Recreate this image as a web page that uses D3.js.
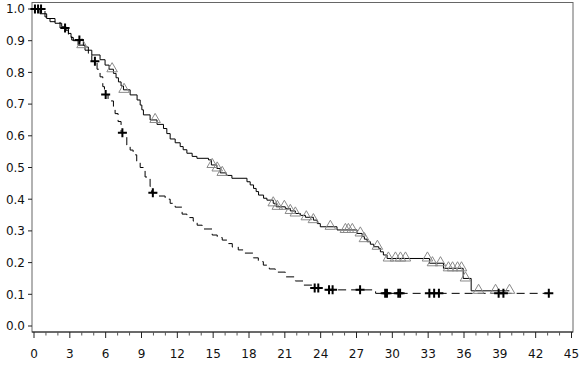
<!DOCTYPE html>
<html>
<head>
<meta charset="utf-8">
<script src="https://cdn.jsdelivr.net/npm/d3@7"></script>
<style>
  body { margin: 0; background: #fff; }
  svg { display: block; font-family: "DejaVu Sans", sans-serif; }
</style>
</head>
<body>
<div id="chart"></div>
<script>
// group A: solid line, triangle censor marks
const timesA = [0, 0.5, 1.06, 1.76, 2.32, 2.68, 2.88, 3.1, 3.29, 3.69, 4.27, 4.84, 5.53, 5.95, 6.29, 6.65, 6.87, 7.07, 7.29, 7.49,
  8.05, 8.63, 8.89, 9.03, 9.16, 9.72, 10.3, 10.84, 11.12, 11.4, 11.82, 12.24, 12.49, 12.8, 13.24, 13.64, 14.61, 14.85, 15.31, 15.59,
  16.1, 16.57, 17.83, 18.1, 18.38, 18.6, 18.8, 19.22, 19.5, 20.03, 20.28, 21.04, 21.46, 21.88, 22.3, 22.72, 23.39, 23.72, 23.97,
  25.37, 27.05, 27.47, 27.66, 27.89, 28.16, 28.44, 28.86, 29.0, 29.25, 29.56, 33.11, 34.28, 35.93, 36.6];
const survA = [1, 0.985, 0.97, 0.955, 0.944, 0.933, 0.923, 0.91, 0.9, 0.886, 0.87, 0.855, 0.84, 0.823, 0.81, 0.797, 0.783, 0.77, 0.757, 0.745,
  0.729, 0.713, 0.697, 0.682, 0.666, 0.65, 0.636, 0.623, 0.607, 0.59, 0.578, 0.566, 0.556, 0.545, 0.535, 0.529, 0.524, 0.508, 0.497, 0.483,
  0.475, 0.466, 0.455, 0.445, 0.434, 0.424, 0.413, 0.403, 0.397, 0.387, 0.376, 0.371, 0.363, 0.355, 0.349, 0.343, 0.334, 0.323, 0.313,
  0.303, 0.292, 0.282, 0.274, 0.266, 0.258, 0.25, 0.245, 0.234, 0.224, 0.213, 0.198, 0.182, 0.15, 0.111];
const endA = 39.8;
const censorA = [4.02, 6.54, 7.54, 10.14, 14.92, 15.34, 15.76, 20.03, 20.37, 20.96, 21.46, 21.88, 22.8, 23.39, 24.81, 26.07, 26.32, 26.65,
  27.32, 27.66, 28.75, 29.67, 30.26, 30.68, 31.1, 32.94, 33.36, 34.03, 34.7, 35.04, 35.46, 35.79, 36.12, 37.22, 38.64, 39.81];

// group B: dashed line, plus censor marks
const timesB = [0, 0.92, 1.34, 2.18, 2.88, 3.16, 4.13, 4.55, 4.84, 5.28, 5.53, 5.76, 5.9, 6.2, 6.65, 6.79, 7.04, 7.29, 7.77, 8.05,
  8.3, 8.6, 8.89, 9.3, 9.72, 9.85, 10.39, 10.98, 11.4, 11.82, 12.4, 12.8, 13.33, 13.66, 14.08, 14.92, 15.34, 15.76, 16.18, 16.6,
  17.1, 17.52, 18.36, 18.78, 19.2, 19.7, 20.2, 21.04, 21.88, 22.55, 23.3, 24.4, 28.6];
const survB = [1, 0.975, 0.96, 0.94, 0.92, 0.902, 0.88, 0.86, 0.835, 0.81, 0.786, 0.755, 0.73, 0.71, 0.688, 0.67, 0.645, 0.61, 0.571, 0.555,
  0.54, 0.52, 0.5, 0.47, 0.44, 0.42, 0.41, 0.4, 0.387, 0.375, 0.353, 0.342, 0.331, 0.318, 0.306, 0.287, 0.279, 0.271, 0.26, 0.249,
  0.24, 0.23, 0.215, 0.203, 0.192, 0.18, 0.17, 0.155, 0.142, 0.129, 0.12, 0.114, 0.103];
const endB = 43.1;
const censorB = [0.08, 0.34, 0.59, 2.6, 3.8, 5.1, 6.0, 7.4, 9.95, 23.5, 23.8, 24.7, 25.0, 27.3, 29.4, 29.55, 30.5, 30.65,
  33.1, 33.5, 33.9, 38.9, 39.3, 43.1];

const xTicks = d3.range(0, 46, 3);
const yTicks = d3.range(0, 1.01, 0.1);

const width = 584, height = 368;
const frame = { left: 32, right: 573, top: 2.5, bottom: 332 };

const svg = d3.select("#chart").append("svg")
  .attr("width", width)
  .attr("height", height);

const x = d3.scaleLinear().domain([0, 45]).range([34, 571.5]);
const y = d3.scaleLinear().domain([0, 1]).range([326, 9]);

// frame
svg.append("rect")
  .attr("x", frame.left).attr("y", frame.top)
  .attr("width", frame.right - frame.left)
  .attr("height", frame.bottom - frame.top)
  .attr("fill", "none")
  .attr("stroke", "#666")
  .attr("stroke-width", 1);

// x axis
const xAxis = svg.append("g")
  .attr("transform", "translate(0," + frame.bottom + ")");
xAxis.append("line")
  .attr("x1", frame.left).attr("x2", frame.right)
  .attr("stroke", "#222");
xAxis.selectAll("line.minor")
  .data(d3.range(0, 46, 1).filter(d => d % 3 !== 0))
  .enter().append("line")
  .attr("class", "minor")
  .attr("x1", d => x(d)).attr("x2", d => x(d))
  .attr("y1", 0).attr("y2", 3.5)
  .attr("stroke", "#555");
xAxis.selectAll("line.major")
  .data(xTicks)
  .enter().append("line")
  .attr("class", "major")
  .attr("x1", d => x(d)).attr("x2", d => x(d))
  .attr("y1", 0).attr("y2", 6)
  .attr("stroke", "#222");
xAxis.selectAll("text")
  .data(xTicks)
  .enter().append("text")
  .attr("x", d => x(d))
  .attr("y", 26)
  .attr("text-anchor", "middle")
  .attr("font-size", 12)
  .attr("fill", "#111")
  .text(d => d);

// y axis
const yAxis = svg.append("g");
yAxis.selectAll("line")
  .data(yTicks)
  .enter().append("line")
  .attr("x1", frame.left - 4).attr("x2", frame.left)
  .attr("y1", d => y(d)).attr("y2", d => y(d))
  .attr("stroke", "#222");
yAxis.selectAll("text")
  .data(yTicks)
  .enter().append("text")
  .attr("x", 25)
  .attr("y", d => y(d))
  .attr("dy", "0.36em")
  .attr("text-anchor", "end")
  .attr("font-size", 12)
  .attr("fill", "#111")
  .text(d => d3.format(".1f")(d));

function survAt(times, surv, t) {
  const i = d3.bisectRight(times, t) - 1;
  return surv[Math.max(0, i)];
}

const line = d3.line()
  .x(d => x(d[0]))
  .y(d => y(d[1]))
  .curve(d3.curveStepAfter);

const ptsA = timesA.map((t, i) => [t, survA[i]]).concat([[endA, survA[survA.length - 1]]]);
const ptsB = timesB.map((t, i) => [t, survB[i]]).concat([[endB, survB[survB.length - 1]]]);

const plot = svg.append("g");

plot.append("path")
  .datum(ptsB)
  .attr("d", line)
  .attr("fill", "none")
  .attr("stroke", "#000")
  .attr("stroke-width", 1)
  .attr("stroke-dasharray", "8,5");

plot.append("path")
  .datum(ptsA)
  .attr("d", line)
  .attr("fill", "none")
  .attr("stroke", "#000")
  .attr("stroke-width", 1);

// triangle censor marks
const tri = d3.symbol().type(d3.symbolTriangle).size(48);
plot.selectAll("path.tri")
  .data(censorA)
  .enter().append("path")
  .attr("class", "tri")
  .attr("d", tri)
  .attr("transform", d => "translate(" + x(d) + "," + (y(survAt(timesA, survA, d)) - 0.5) + ")")
  .attr("fill", "none")
  .attr("stroke", "#8a8a8a")
  .attr("stroke-width", 1);

// plus censor marks
plot.selectAll("path.plus")
  .data(censorB)
  .enter().append("path")
  .attr("class", "plus")
  .attr("d", "M-4.5,0H4.5M0,-4.5V4.5")
  .attr("transform", d => "translate(" + x(d) + "," + y(survAt(timesB, survB, d)) + ")")
  .attr("fill", "none")
  .attr("stroke", "#000")
  .attr("stroke-width", 2);
</script>
</body>
</html>
